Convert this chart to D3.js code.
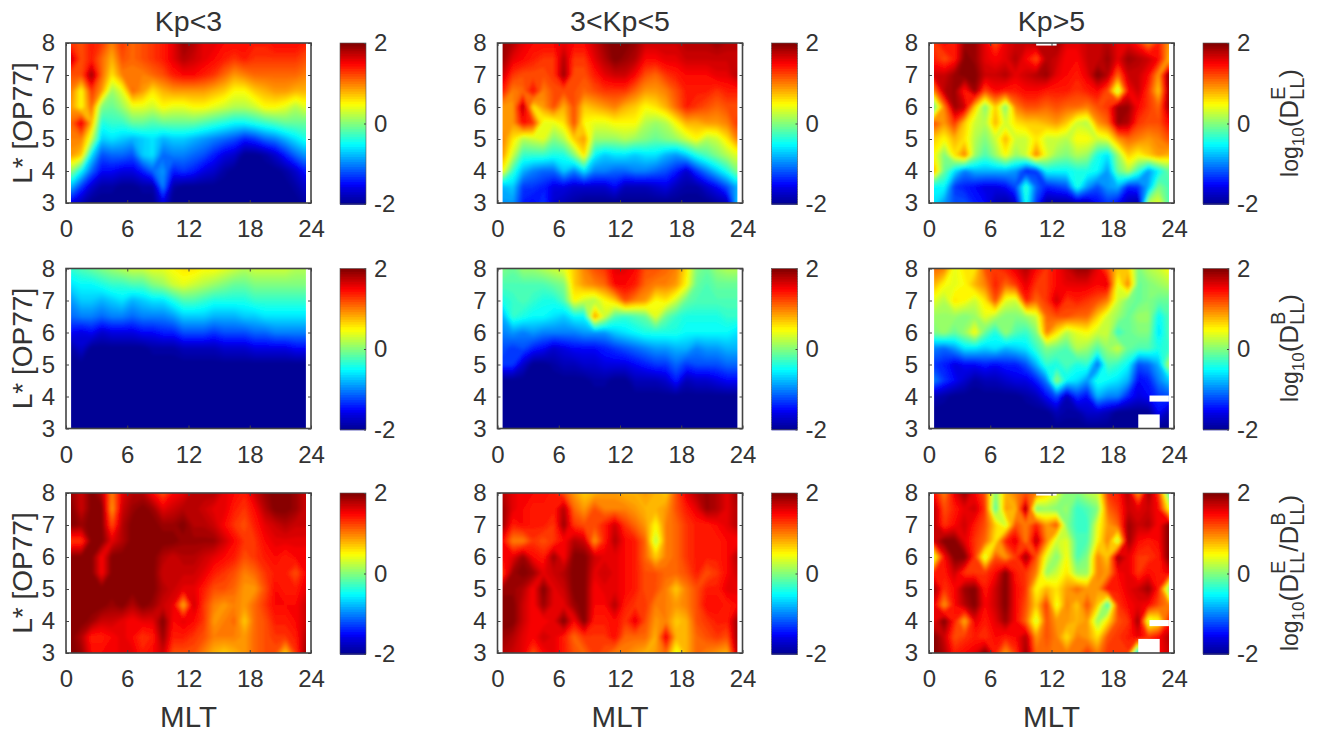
<!DOCTYPE html>
<html>
<head>
<meta charset="utf-8">
<script src="https://cdn.jsdelivr.net/npm/d3@7"></script>
<style>
  html, body { margin: 0; background: #fff; }
  svg { display: block; }
  text { font-family: "Liberation Sans", Arial, sans-serif; fill: #333; }
  .tick text { font-size: 24px; }
  .frame { fill: none; stroke: #444; stroke-width: 1.6; }
  .tick line { stroke: #444; stroke-width: 1; }
  .domain { display: none; }
</style>
</head>
<body>
<svg id="chart" width="1317" height="733"></svg>
<script>
// ---------------- DATA ----------------
// each grid: rows from L*=8 down to L*=3 (step 0.5), columns MLT 0.5 .. 23.5

const kpTitles = ["Kp<3", "3<Kp<5", "Kp>5"];
const mltTicks = [0, 6, 12, 18, 24];
const lTicks = [3, 4, 5, 6, 7, 8];
const colorTicks = [-2, 0, 2];

const dE_low = [
  [1.3,1.2,1.4,1.3,1.0,1.3,1.1,1.2,1.3,1.4,1.6,1.9,1.8,1.6,1.6,1.5,1.5,1.5,1.4,1.4,1.5,1.5,1.5,1.4],
  [1.7,1.2,1.4,1.1,0.8,1.2,1.1,1.2,1.3,1.4,1.6,1.8,1.7,1.6,1.5,1.4,1.3,1.4,1.3,1.3,1.3,1.3,1.3,1.2],
  [1.2,1.2,1.9,1.1,0.6,1.0,1.0,1.0,1.1,1.2,1.4,1.5,1.5,1.4,1.3,1.1,0.9,1.0,1.1,1.1,1.1,1.1,1.1,1.0],
  [1.0,0.5,1.3,0.9,0.1,0.4,1.1,0.9,0.6,0.8,0.9,0.9,0.9,0.9,0.8,0.7,0.5,0.5,0.7,0.8,0.9,0.9,0.8,0.8],
  [0.9,0.5,1.1,0.0,-0.1,0.1,0.4,0.4,0.3,0.5,0.4,0.4,0.5,0.5,0.4,0.3,0.2,0.2,0.3,0.5,0.5,0.4,0.2,0.4],
  [1.1,1.6,0.8,-0.4,-0.3,-0.3,-0.1,-0.1,-0.2,-0.1,-0.1,-0.1,-0.1,-0.2,-0.3,-0.4,-0.5,-0.5,-0.4,-0.3,-0.2,-0.1,-0.1,-0.1],
  [1.0,1.0,0.3,-0.7,-0.6,-0.7,-0.8,-0.7,-0.6,-0.8,-0.7,-0.7,-0.8,-0.9,-1.0,-1.1,-1.2,-1.4,-1.3,-1.1,-1.0,-0.8,-0.6,-0.4],
  [0.9,0.7,-0.6,-1.2,-1.1,-1.1,-1.2,-0.7,-0.6,-1.1,-1.0,-1.0,-1.1,-1.2,-1.4,-1.6,-1.7,-2.0,-2.0,-1.9,-1.7,-1.4,-1.1,-0.9],
  [0.1,-0.5,-1.1,-1.5,-1.5,-1.6,-1.6,-1.4,-1.1,-0.9,-1.4,-1.3,-1.4,-1.6,-1.7,-1.9,-2.0,-2.0,-2.0,-2.0,-2.0,-1.9,-1.7,-1.4],
  [-0.8,-1.3,-1.7,-1.9,-1.9,-2.0,-2.0,-1.9,-1.9,-1.0,-1.9,-2.0,-2.0,-2.0,-2.0,-2.0,-2.0,-2.0,-2.0,-2.0,-2.0,-2.0,-1.9,-1.7],
  [-1.6,-1.8,-2.0,-2.0,-2.0,-2.0,-2.0,-2.0,-2.0,-1.6,-2.0,-2.0,-2.0,-2.0,-2.0,-2.0,-2.0,-2.0,-2.0,-2.0,-2.0,-2.0,-2.0,-1.9]
];

const dE_mid = [
  [1.9,1.8,1.6,1.5,1.5,1.5,1.6,1.5,1.5,1.7,1.9,2.0,2.0,1.9,1.7,1.7,1.7,1.7,1.8,1.8,1.8,1.9,1.8,1.8],
  [1.9,1.6,1.5,1.4,1.3,1.3,1.8,1.3,1.3,1.6,1.8,2.0,1.9,1.8,1.5,1.5,1.6,1.6,1.7,1.7,1.7,1.7,1.7,1.7],
  [1.7,1.3,1.2,1.2,1.2,1.3,1.9,1.2,1.2,1.4,1.6,1.7,1.7,1.5,1.2,1.1,1.3,1.4,1.5,1.5,1.5,1.6,1.6,1.8],
  [1.4,1.0,1.1,1.5,1.0,1.2,1.2,1.2,1.1,1.2,1.3,1.3,1.3,1.1,0.9,0.9,1.0,1.2,1.4,1.4,1.4,1.3,1.4,1.4],
  [0.9,0.9,1.8,0.6,0.9,1.2,0.8,1.2,0.7,0.8,0.9,1.0,0.8,0.7,0.5,0.6,0.8,1.1,1.4,1.3,1.2,1.1,1.2,1.2],
  [0.9,0.9,1.5,1.3,0.4,0.4,0.6,1.2,0.5,0.4,0.4,0.5,0.5,0.5,0.2,0.1,0.2,0.5,0.8,0.8,0.9,0.9,1.0,1.3],
  [1.0,0.6,0.2,0.3,0.4,0.0,0.2,0.7,0.9,0.1,0.1,0.1,0.2,0.1,0.0,-0.1,0.0,0.1,0.3,0.5,0.2,0.3,0.6,1.0],
  [0.9,0.3,-0.3,-0.3,-0.3,-0.4,-0.4,0.0,0.6,-0.5,-0.7,-0.6,-0.6,-0.7,-0.6,-0.6,-0.8,-0.9,-0.7,-0.4,-0.2,0.0,0.2,0.4],
  [0.5,-0.3,-0.8,-1.0,-1.1,-1.1,-0.7,-1.0,-0.6,-1.0,-1.0,-1.1,-1.1,-1.0,-1.0,-1.1,-1.2,-1.4,-1.7,-1.3,-1.0,-0.7,-0.4,0.0],
  [-0.8,-0.7,-1.3,-1.3,-1.4,-1.6,-1.6,-1.7,-1.7,-1.7,-1.7,-1.5,-1.8,-1.8,-1.8,-1.7,-1.6,-1.8,-1.9,-1.9,-1.7,-1.5,-1.2,-0.8],
  [-0.9,-0.9,-1.4,-1.5,-1.3,-1.7,-1.8,-1.9,-2.0,-2.0,-2.0,-2.0,-2.0,-2.0,-2.0,-2.0,-2.0,-2.0,-2.0,-2.0,-2.0,-1.9,-1.8,-0.7]
];

const dE_high = [
  [1.3,1.5,1.4,1.9,1.9,1.6,1.2,1.6,1.7,1.7,1.8,1.8,1.9,1.6,1.6,1.7,1.7,1.8,1.6,1.6,1.4,1.0,1.4,0.9],
  [1.4,1.2,1.4,2.0,1.9,1.6,1.5,1.6,1.8,1.5,1.2,1.8,1.7,1.5,1.5,1.7,1.7,1.9,1.6,1.9,1.8,1.7,1.5,0.8],
  [1.7,1.7,1.9,2.0,2.0,1.7,1.7,1.8,1.6,1.7,1.8,1.9,1.6,1.5,1.4,1.6,2.0,1.8,1.1,1.7,1.7,1.5,0.9,2.0],
  [1.0,1.8,1.9,1.4,1.9,1.2,1.5,1.4,1.4,1.5,1.5,1.4,1.4,1.4,1.3,1.4,1.5,1.2,0.2,1.5,1.7,1.3,0.7,1.9],
  [-0.1,1.0,1.9,1.7,0.7,0.0,0.7,0.0,1.0,1.2,1.2,1.1,1.2,1.1,1.1,1.0,1.2,1.3,1.9,1.9,1.5,1.3,1.1,1.9],
  [1.2,0.9,1.3,0.7,0.3,0.2,0.8,0.3,0.6,0.7,0.7,0.8,0.9,0.7,0.3,0.2,0.9,1.1,1.9,1.8,1.3,1.2,1.2,1.5],
  [0.7,0.5,0.8,0.6,0.2,0.0,0.3,0.8,0.3,0.3,0.6,0.3,0.3,0.2,0.5,0.5,0.3,0.4,0.9,1.1,1.0,0.9,1.0,1.2],
  [0.5,0.0,0.6,1.0,0.1,-0.2,0.1,0.5,0.1,0.3,1.0,0.4,0.1,0.0,0.2,0.1,-0.4,-0.6,0.1,0.7,0.5,0.7,0.9,0.8],
  [0.8,-0.1,-0.6,-1.0,-0.8,-0.8,-0.8,-0.8,-0.9,-1.4,-1.3,-0.5,-0.5,-0.5,-0.4,-0.4,-0.5,-0.9,-0.1,0.2,-0.3,-0.9,-0.5,-0.1],
  [-0.5,-0.5,-1.3,-1.4,-1.5,-1.6,-1.6,-1.5,-1.2,-0.3,-1.1,-1.4,-1.3,-1.2,-0.4,-0.9,-1.2,-0.9,-0.8,-1.4,-1.3,-0.8,0.0,-0.2],
  [-0.6,-0.9,-1.2,-1.2,-1.4,-1.5,-1.8,-1.9,-1.7,-0.4,-1.3,-1.9,-1.9,-1.9,-1.8,-1.8,-1.5,-1.3,-1.5,-1.8,-1.9,0.2,0.4,-0.2]
];

const dB_low = [
  [-0.3,-0.2,-0.1,0.0,0.1,0.2,0.3,0.3,0.4,0.4,0.5,0.6,0.6,0.5,0.5,0.4,0.3,0.2,0.3,0.3,0.3,0.3,0.2,0.2],
  [-0.6,-0.5,-0.5,-0.4,-0.3,-0.3,-0.2,-0.2,0.0,0.1,0.3,0.4,0.3,0.2,0.1,0.0,-0.1,-0.1,0.0,0.0,0.0,0.0,0.0,0.0],
  [-0.9,-0.7,-0.7,-0.8,-0.7,-0.6,-0.8,-0.7,-0.6,-0.6,-0.4,-0.2,-0.2,-0.3,-0.4,-0.4,-0.4,-0.4,-0.3,-0.3,-0.3,-0.3,-0.3,-0.3],
  [-1.1,-1.0,-1.0,-1.1,-1.0,-1.0,-1.1,-1.0,-1.0,-1.0,-0.9,-0.7,-0.7,-0.7,-0.8,-0.8,-0.8,-0.7,-0.7,-0.6,-0.6,-0.6,-0.6,-0.6],
  [-1.5,-1.6,-1.5,-1.7,-1.6,-1.6,-1.6,-1.5,-1.5,-1.4,-1.4,-1.2,-1.2,-1.2,-1.3,-1.2,-1.2,-1.2,-1.1,-1.1,-1.0,-1.0,-1.0,-1.0],
  [-1.9,-1.7,-2.0,-2.0,-2.0,-2.0,-2.0,-2.0,-1.9,-1.9,-1.9,-1.8,-1.8,-1.8,-1.8,-1.7,-1.7,-1.7,-1.6,-1.6,-1.6,-1.6,-1.5,-1.5],
  [-2.0,-2.0,-2.0,-2.0,-2.0,-2.0,-2.0,-2.0,-2.0,-2.0,-2.0,-2.0,-2.0,-2.0,-2.0,-2.0,-2.0,-2.0,-2.0,-2.0,-2.0,-2.0,-2.0,-2.0],
  [-2.0,-2.0,-2.0,-2.0,-2.0,-2.0,-2.0,-2.0,-2.0,-2.0,-2.0,-2.0,-2.0,-2.0,-2.0,-2.0,-2.0,-2.0,-2.0,-2.0,-2.0,-2.0,-2.0,-2.0],
  [-2.0,-2.0,-2.0,-2.0,-2.0,-2.0,-2.0,-2.0,-2.0,-2.0,-2.0,-2.0,-2.0,-2.0,-2.0,-2.0,-2.0,-2.0,-2.0,-2.0,-2.0,-2.0,-2.0,-2.0],
  [-2.0,-2.0,-2.0,-2.0,-2.0,-2.0,-2.0,-2.0,-2.0,-2.0,-2.0,-2.0,-2.0,-2.0,-2.0,-2.0,-2.0,-2.0,-2.0,-2.0,-2.0,-2.0,-2.0,-2.0],
  [-2.0,-2.0,-2.0,-2.0,-2.0,-2.0,-2.0,-2.0,-2.0,-2.0,-2.0,-2.0,-2.0,-2.0,-2.0,-2.0,-2.0,-2.0,-2.0,-2.0,-2.0,-2.0,-2.0,-2.0]
];

const dB_mid = [
  [0.0,-0.1,0.1,0.1,0.2,0.3,0.4,0.7,1.0,1.2,1.3,1.6,1.6,1.5,1.2,1.2,1.1,1.0,0.6,0.0,-0.1,0.1,0.2,0.2],
  [-0.2,-0.2,-0.2,-0.2,-0.2,-0.1,0.0,0.7,0.9,1.0,1.1,1.5,1.5,1.4,1.1,1.0,1.0,0.9,0.5,-0.1,-0.2,-0.1,-0.1,-0.1],
  [-0.4,-0.3,-0.2,-0.3,-0.4,-0.4,-0.2,0.5,0.3,0.2,0.5,0.7,1.2,1.0,0.9,0.5,0.6,0.3,-0.1,-0.2,-0.2,-0.2,-0.2,-0.2],
  [-0.8,-0.3,-0.4,-0.5,-0.5,-0.6,-0.7,-0.5,-0.5,0.9,0.3,-0.2,-0.3,-0.2,-0.1,0.4,-0.1,-0.3,-0.4,-0.4,-0.4,-0.4,-0.3,-0.3],
  [-1.0,-0.9,-1.0,-0.9,-1.0,-1.0,-1.0,-1.0,-0.9,-0.9,-0.9,-0.7,-0.6,-0.5,-0.4,-0.4,-0.4,-0.4,-0.5,-0.5,-0.5,-0.5,-0.5,-0.6],
  [-1.2,-1.3,-1.2,-1.4,-1.5,-1.7,-1.6,-1.5,-1.5,-1.5,-1.4,-1.3,-1.2,-1.1,-1.0,-0.9,-0.9,-0.8,-0.8,-1.0,-0.9,-0.9,-0.8,-0.8],
  [-1.3,-1.3,-1.7,-2.0,-2.0,-1.9,-1.8,-1.8,-1.7,-1.7,-1.6,-1.6,-1.6,-1.5,-1.4,-1.3,-1.3,-1.1,-1.3,-1.2,-1.2,-1.2,-1.1,-1.1],
  [-2.0,-2.0,-2.0,-2.0,-2.0,-2.0,-2.0,-2.0,-2.0,-1.9,-1.9,-2.0,-2.0,-1.8,-1.8,-1.8,-1.7,-1.4,-1.8,-1.7,-1.7,-1.6,-1.5,-1.5],
  [-2.0,-2.0,-2.0,-2.0,-2.0,-2.0,-2.0,-2.0,-2.0,-2.0,-2.0,-2.0,-2.0,-2.0,-2.0,-2.0,-2.0,-2.0,-2.0,-2.0,-2.0,-2.0,-2.0,-2.0],
  [-2.0,-2.0,-2.0,-2.0,-2.0,-2.0,-2.0,-2.0,-2.0,-2.0,-2.0,-2.0,-2.0,-2.0,-2.0,-2.0,-2.0,-2.0,-2.0,-2.0,-2.0,-2.0,-2.0,-2.0],
  [-2.0,-2.0,-2.0,-2.0,-2.0,-2.0,-2.0,-2.0,-2.0,-2.0,-2.0,-2.0,-2.0,-2.0,-2.0,-2.0,-2.0,-2.0,-2.0,-2.0,-2.0,-2.0,-2.0,-2.0]
];

const dB_high = [
  [1.1,1.0,0.4,0.6,0.6,1.2,1.3,1.4,1.6,1.8,1.5,1.3,1.5,1.7,1.9,1.9,1.6,1.2,0.7,0.7,0.0,0.2,0.3,0.5],
  [0.8,0.5,0.4,0.5,0.8,1.0,1.4,1.1,1.3,1.6,1.3,1.3,1.5,1.6,1.6,1.6,1.5,1.6,0.4,1.0,-0.1,0.0,0.1,0.2],
  [0.4,0.2,0.6,0.5,0.3,0.6,1.2,0.4,0.3,1.4,1.1,1.3,1.7,1.3,1.4,1.3,1.2,1.0,0.3,0.0,-0.1,0.0,-0.1,-0.1],
  [0.1,0.1,0.1,0.0,0.1,0.4,0.2,0.0,0.0,0.1,0.3,1.1,1.2,1.2,1.1,1.1,0.7,0.3,0.1,-0.1,0.1,0.1,-0.5,-0.2],
  [0.0,0.1,-0.1,0.1,0.5,-0.1,-0.4,0.1,-0.2,-0.3,0.0,1.0,0.6,0.2,0.4,0.5,0.3,0.3,-0.3,-0.1,0.0,0.0,-0.6,-0.2],
  [-1.0,-1.1,-0.9,-0.6,-0.6,-0.7,-0.6,-0.8,-0.7,-0.6,-0.3,0.0,-0.1,-0.2,0.2,0.1,-0.2,0.1,0.3,-0.1,-0.2,-0.2,-0.4,-0.3],
  [-1.3,-1.4,-1.6,-1.5,-1.5,-1.4,-1.5,-1.4,-1.4,-1.2,-0.8,-0.3,-0.4,-0.2,-0.4,-0.3,-1.1,-0.2,-0.3,-0.5,-1.2,-1.1,-0.8,0.2],
  [-1.0,-1.3,-1.5,-1.7,-1.9,-1.8,-1.8,-1.7,-1.6,-1.6,-1.4,-1.0,0.1,-0.5,-0.6,-0.9,-0.4,-0.5,-0.6,-0.8,-1.5,-1.4,-1.0,-0.7],
  [-1.8,-1.9,-2.0,-2.0,-2.0,-2.0,-2.0,-2.0,-2.0,-1.9,-1.8,-1.5,-1.2,-1.8,-1.3,-1.5,-0.8,-1.0,-1.0,-1.4,-1.6,-1.5,-1.3,-1.2],
  [-2.0,-2.0,-2.0,-2.0,-2.0,-2.0,-2.0,-2.0,-2.0,-2.0,-2.0,-2.0,-1.8,-1.9,-1.9,-1.7,-1.7,-1.8,-2.0,-2.0,-2.0,-2.0,-1.5,-1.8],
  [-2.0,-2.0,-2.0,-2.0,-2.0,-2.0,-2.0,-2.0,-2.0,-2.0,-2.0,-2.0,-2.0,-2.0,-2.0,-2.0,-2.0,-2.0,-2.0,-2.0,-2.0,-2.0,-2.0,-2.0]
];

const ratio_low = [
  [1.9,1.7,2.0,1.8,1.0,1.6,1.8,1.8,1.5,1.2,1.5,1.6,1.8,1.8,1.8,1.6,1.5,1.4,1.7,1.9,2.0,2.0,1.9,1.7],
  [2.0,1.7,2.0,2.0,0.9,1.7,1.9,2.0,1.9,1.6,1.7,1.8,1.8,1.7,1.6,1.6,1.4,1.3,1.5,1.8,2.0,2.0,1.9,1.7],
  [2.0,1.9,2.0,2.0,1.2,1.8,2.0,2.0,2.0,1.9,1.9,2.0,1.8,1.8,1.7,1.5,1.3,1.2,1.4,1.6,1.7,1.8,1.7,1.7],
  [1.3,1.3,2.0,2.0,1.6,1.8,2.0,2.0,2.0,2.0,2.0,1.9,1.9,1.9,1.9,1.7,1.5,1.3,1.3,1.5,1.6,1.6,1.6,1.6],
  [2.0,2.0,2.0,1.5,2.0,2.0,2.0,2.0,2.0,1.8,1.7,1.8,1.8,1.7,1.6,1.5,1.4,1.2,1.3,1.4,1.5,1.4,1.5,1.5],
  [2.0,2.0,2.0,1.5,2.0,2.0,2.0,2.0,2.0,1.7,1.7,1.7,1.7,1.6,1.4,1.3,1.2,1.0,1.1,1.3,1.4,1.4,1.2,1.5],
  [2.0,2.0,2.0,2.0,2.0,2.0,2.0,2.0,2.0,1.8,1.7,1.6,1.6,1.4,1.2,1.2,1.1,0.9,0.9,1.2,1.5,1.4,1.4,1.6],
  [2.0,2.0,2.0,2.0,1.9,2.0,1.8,2.0,1.9,1.7,1.6,0.8,1.7,1.3,1.0,0.9,1.0,0.9,1.1,1.3,1.5,1.5,1.5,1.7],
  [2.0,2.0,1.9,1.7,1.7,1.6,1.5,1.6,1.6,2.0,1.5,1.6,1.5,1.3,0.9,1.0,1.1,0.7,1.1,1.2,1.4,1.4,1.5,1.7],
  [2.0,1.8,1.4,1.4,1.5,1.6,1.5,1.3,1.4,1.9,1.4,1.4,1.3,1.2,1.0,1.0,1.0,0.9,1.1,1.2,1.3,1.3,1.4,1.8],
  [2.0,1.9,1.5,1.5,1.5,1.6,1.6,1.4,1.5,1.7,1.2,1.2,1.2,1.0,0.8,0.7,0.8,0.9,1.1,1.2,1.2,0.7,1.3,1.9]
];

const ratio_mid = [
  [1.8,1.6,1.5,1.5,1.5,1.4,1.2,0.9,0.7,0.8,0.9,0.9,0.8,0.8,0.9,0.8,0.7,1.2,1.6,1.8,1.9,1.8,1.6,1.9],
  [1.9,1.6,1.5,1.4,1.4,1.4,1.8,1.1,0.9,1.2,1.0,1.0,1.0,0.9,0.8,0.8,0.9,1.2,1.4,1.6,1.9,1.8,1.6,1.8],
  [1.9,1.4,1.5,1.4,1.4,1.3,1.9,1.3,1.2,1.2,1.4,1.7,1.3,1.1,0.9,0.5,1.0,1.1,1.3,1.4,1.4,1.5,1.6,1.8],
  [1.5,1.0,1.0,1.3,1.2,1.3,1.5,1.8,1.7,0.9,1.4,1.8,1.5,1.4,1.1,0.2,1.0,1.1,1.3,1.4,1.4,1.4,1.5,1.5],
  [1.5,1.6,1.9,1.5,1.4,1.9,1.5,2.0,2.0,1.7,1.6,1.6,1.5,1.4,1.1,0.7,1.0,1.1,1.3,1.4,1.4,1.4,1.5,1.8],
  [1.3,1.9,2.0,1.9,1.6,1.7,1.8,2.0,2.0,1.6,1.7,1.6,1.5,1.4,1.2,1.2,1.1,1.1,1.2,1.4,1.2,1.3,1.5,1.7],
  [1.9,1.9,1.8,1.5,2.0,1.6,1.7,2.0,2.0,1.5,1.6,1.6,1.5,1.4,1.2,1.2,1.0,0.7,1.0,1.2,1.4,1.4,1.6,1.6],
  [2.0,2.0,1.7,1.5,1.9,1.6,1.6,1.9,2.0,1.5,1.5,1.8,1.4,1.3,1.3,1.0,1.0,0.9,1.0,1.2,1.5,1.5,1.4,1.5],
  [2.0,2.0,1.7,1.5,1.5,1.6,2.0,1.5,2.0,1.4,1.4,1.5,1.3,1.6,1.2,0.9,1.0,0.7,0.8,1.2,1.3,1.4,1.4,1.9],
  [1.9,1.8,1.6,1.5,1.7,1.6,1.4,1.1,1.3,1.3,1.3,1.5,1.1,1.1,1.1,0.8,1.6,0.8,0.8,1.1,1.2,1.3,1.2,1.9],
  [1.8,1.7,1.6,1.2,1.5,1.6,1.4,1.2,1.1,1.3,1.2,1.0,1.0,0.9,0.8,0.9,1.1,0.4,0.8,1.1,1.0,0.9,0.8,1.8]
];

const ratio_high = [
  [1.5,1.0,1.6,1.9,1.5,1.2,0.0,0.8,1.0,1.2,1.0,0.7,0.4,0.0,0.0,0.2,0.3,1.3,1.4,1.8,0.9,1.9,1.3,-0.2],
  [1.8,1.2,1.4,1.6,1.7,1.3,-0.2,0.9,0.8,1.9,0.0,0.1,0.0,0.1,-0.3,-0.2,0.0,1.1,1.3,1.7,1.6,1.7,1.5,0.5],
  [1.8,1.3,1.5,1.7,1.4,1.2,0.7,0.3,1.2,1.0,1.4,0.9,1.2,0.0,-0.3,-0.3,0.4,0.9,1.1,1.9,1.7,1.8,1.5,2.0],
  [1.7,2.0,2.0,1.6,1.3,1.1,0.6,1.4,1.6,1.0,1.8,1.0,0.3,0.4,-0.2,-0.2,0.5,1.0,0.2,1.9,1.5,1.4,1.5,2.0],
  [0.4,1.5,2.0,2.0,1.3,0.3,1.2,0.9,1.3,1.9,1.2,0.4,0.0,0.5,-0.2,0.0,1.0,0.7,1.9,1.6,1.3,1.3,1.4,2.0],
  [1.4,1.4,1.7,1.3,1.3,1.3,1.5,2.0,1.4,1.3,1.0,0.1,0.3,0.6,0.1,0.1,1.0,0.9,1.5,1.6,1.3,1.5,1.4,1.6],
  [1.9,1.3,1.5,1.9,2.0,1.4,1.7,2.0,1.5,1.3,0.5,0.8,0.6,0.9,1.1,0.9,0.9,1.5,1.4,1.6,1.7,1.9,1.4,0.0],
  [1.6,0.9,1.5,1.8,2.0,1.5,1.7,2.0,1.5,1.2,0.7,1.3,0.4,1.0,0.7,1.2,0.7,-0.3,1.3,1.5,1.6,1.5,1.2,1.0],
  [1.6,2.0,1.4,0.8,1.6,1.4,1.6,1.9,1.5,1.1,0.3,1.2,0.9,0.9,0.8,0.9,0.1,0.6,1.2,1.3,1.9,0.3,0.5,1.4],
  [2.0,1.7,1.2,1.3,1.4,1.3,1.5,1.4,1.5,1.8,0.9,1.2,1.0,0.6,1.0,0.9,0.6,1.2,1.3,1.4,1.6,1.3,1.5,1.8],
  [2.0,1.8,1.4,1.5,1.6,2.0,1.4,0.9,1.3,1.9,1.1,1.1,1.0,1.0,1.0,1.3,1.0,1.3,1.3,1.3,-0.8,1.5,1.5,1.7]
];

// cells with no data in the Kp>5 column: [mlt from, mlt to, L from, L to]
const gapsE = [[10.5, 12.5, 7.92, 8]];
const gapsB = [[20.5, 22.6, 3, 3.44], [21.6, 23.5, 3.84, 4.03]];
const gapsRatio = [[10.5, 12.5, 7.92, 8], [20.5, 22.6, 3, 3.44], [21.6, 23.5, 3.84, 4.03]];

// ---------------- LAYOUT ----------------

const columnX = [66, 497.5, 929];
const rowY = [43, 268.5, 493];
const panelW = 245, panelH = 160;
const barOffset = 274, barW = 26;

const grids = [
  [dE_low, dE_mid, dE_high],
  [dB_low, dB_mid, dB_high],
  [ratio_low, ratio_mid, ratio_high]
];
const gaps = [gapsE, gapsB, gapsRatio];

const jet = d3.scaleLinear()
  .domain([0, 0.11, 0.125, 0.375, 0.625, 0.875, 1])
  .range(["#00008f", "#0000e8", "#0000ff", "#00ffff", "#ffff00", "#ff0000", "#800000"])
  .clamp(true);

const levels = d3.range(64).map(i => -2 + i * 4 / 64);
const levelColor = d3.scaleQuantize().domain([-2, 2]).range(d3.range(64).map(i => jet((i + 0.5) / 64)));

const svg = d3.select("#chart");
const defs = svg.append("defs");

// softens the contour polygons, the original is a shaded surface
defs.append("filter").attr("id", "soft")
  .attr("x", "-5%").attr("y", "-5%").attr("width", "110%").attr("height", "110%")
  .append("feGaussianBlur").attr("stdDeviation", 1.8);

// ---------------- PANELS ----------------

function drawPanel(grid, col, row) {
  const id = `clip-${row}-${col}`;
  const g = svg.append("g").attr("transform", `translate(${columnX[col]},${rowY[row]})`);

  const x = d3.scaleLinear().domain([0, 24]).range([0, panelW]);
  const y = d3.scaleLinear().domain([3, 8]).range([panelH, 0]);

  defs.append("clipPath").attr("id", id).append("rect")
    .attr("x", x(0.5)).attr("y", y(8))
    .attr("width", x(23.5) - x(0.5)).attr("height", y(3) - y(8));

  // contour coordinates: value i sits at i + 0.5
  const nRows = grid.length, nCols = grid[0].length;
  const path = d3.geoPath(d3.geoTransform({
    point(cx, cy) { this.stream.point(x(cx), y(8 - (cy - 0.5) * 5 / (nRows - 1))); }
  }));
  const contours = d3.contours().size([nCols, nRows]).thresholds(levels).smooth(true);

  g.append("g").attr("clip-path", `url(#${id})`)
    .append("g").attr("filter", "url(#soft)")
    .selectAll("path")
    .data(contours(grid.flat()))
    .join("path")
    .attr("d", path)
    .attr("fill", d => levelColor(d.value + 0.01))
    .attr("stroke", "none");

  if (col === 2) {
    g.append("g").selectAll("rect")
      .data(gaps[row])
      .join("rect")
      .attr("x", d => x(d[0]))
      .attr("y", d => y(d[3]))
      .attr("width", d => x(d[1]) - x(d[0]))
      .attr("height", d => y(d[2]) - y(d[3]))
      .attr("fill", "#fff");
  }

  g.append("g").attr("transform", `translate(0,${panelH})`)
    .call(d3.axisBottom(x).tickValues(mltTicks).tickSizeInner(-3).tickSizeOuter(0).tickPadding(17).tickFormat(d3.format("d")));
  g.append("g")
    .call(d3.axisLeft(y).tickValues(lTicks).tickSizeInner(-3).tickSizeOuter(0).tickPadding(11).tickFormat(d3.format("d")));
  g.append("g")
    .call(d3.axisTop(x).tickValues(mltTicks).tickSizeInner(-3).tickSizeOuter(0).tickFormat(""));
  g.append("g").attr("transform", `translate(${panelW},0)`)
    .call(d3.axisRight(y).tickValues(lTicks).tickSizeInner(-3).tickSizeOuter(0).tickFormat(""));

  g.append("rect").attr("class", "frame").attr("width", panelW).attr("height", panelH);

  // colorbar
  const bar = g.append("g").attr("transform", `translate(${barOffset},0)`);
  const c = d3.scaleLinear().domain([-2, 2]).range([panelH + 1, 0]);
  bar.selectAll("rect")
    .data(levels)
    .join("rect")
    .attr("x", 0)
    .attr("width", barW)
    .attr("y", d => c(d + 4 / 64))
    .attr("height", c(0) - c(4 / 64) + 0.8)
    .attr("fill", d => levelColor(d + 0.01));
  bar.append("g").attr("transform", `translate(${barW},0)`)
    .call(d3.axisRight(c).tickValues(colorTicks).tickSizeInner(-2).tickSizeOuter(0).tickPadding(8)
      .tickFormat(d => String(d)));
  bar.append("rect").attr("width", barW).attr("height", panelH + 1)
    .attr("fill", "none").attr("stroke", "#555").attr("stroke-width", 0.6);

  if (row === 0) {
    g.append("text").attr("x", panelW / 2).attr("y", -12)
      .attr("text-anchor", "middle").attr("font-size", 28.5).text(kpTitles[col]);
  }
  if (row === 2) {
    g.append("text").attr("x", panelW / 2).attr("y", panelH + 74)
      .attr("text-anchor", "middle").attr("font-size", 29.5).text("MLT");
  }
  if (col === 0) {
    g.append("text")
      .attr("transform", `translate(-34,${panelH / 2}) rotate(-90)`)
      .attr("text-anchor", "middle").attr("font-size", 28).text("L* [OP77]");
  }
}

grids.forEach((rowGrids, row) => rowGrids.forEach((grid, col) => drawPanel(grid, col, row)));

// ---------------- COLORBAR LABELS ----------------

// rotated label built from pieces, stacked scripts skip the advance
function drawBarLabel(cy, parts) {
  const g = svg.append("g").attr("transform", `translate(1298,${cy}) rotate(-90)`);
  let pos = 0;
  parts.forEach(p => {
    const t = g.append("text").attr("x", pos).attr("y", p.dy).attr("font-size", p.size).text(p.text);
    if (p.advance !== false) pos += t.node().getComputedTextLength();
  });
  g.selectAll("text").attr("dx", -pos / 2);
}

const big = 26, small = 20;
const logPart = [
  { text: "log", size: 23, dy: 0 },
  { text: "10", size: 17, dy: 6 },
  { text: "(D", size: big, dy: 0 }
];

drawBarLabel(123, [
  ...logPart,
  { text: "E", size: small, dy: -13, advance: false },
  { text: "LL", size: small, dy: 6 },
  { text: ")", size: big, dy: 0 }
]);
drawBarLabel(348, [
  ...logPart,
  { text: "B", size: small, dy: -13, advance: false },
  { text: "LL", size: small, dy: 6 },
  { text: ")", size: big, dy: 0 }
]);
drawBarLabel(573, [
  ...logPart,
  { text: "E", size: small, dy: -13, advance: false },
  { text: "LL", size: small, dy: 6 },
  { text: "/D", size: big, dy: 0 },
  { text: "B", size: small, dy: -13, advance: false },
  { text: "LL", size: small, dy: 6 },
  { text: ")", size: big, dy: 0 }
]);
</script>
</body>
</html>
